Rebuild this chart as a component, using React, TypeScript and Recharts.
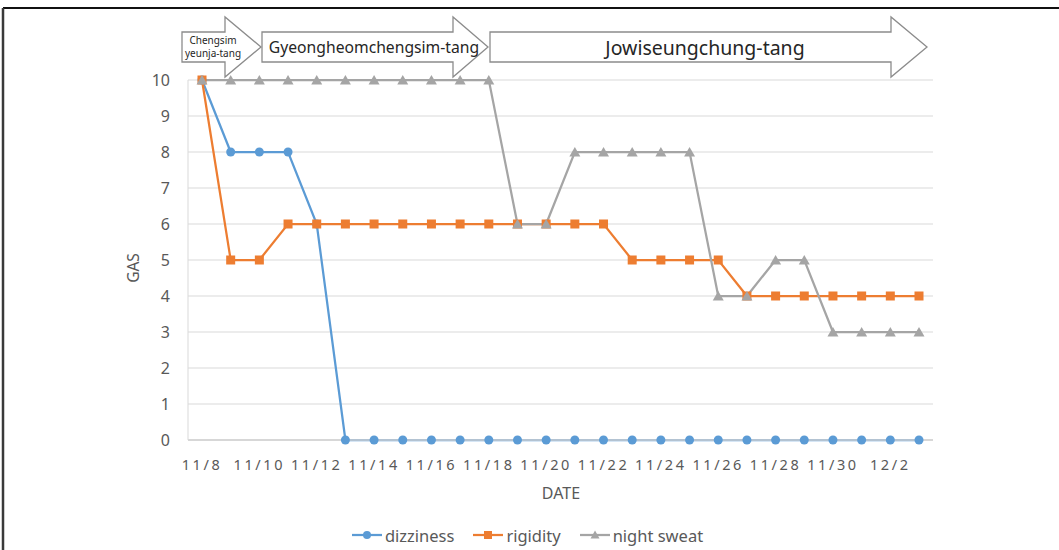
import React from 'react';
import { LineChart, Line, XAxis, YAxis, CartesianGrid, Legend } from 'recharts';

const dates = ['11/8','11/9','11/10','11/11','11/12','11/13','11/14','11/15','11/16','11/17','11/18','11/19','11/20','11/21','11/22','11/23','11/24','11/25','11/26','11/27','11/28','11/29','11/30','12/1','12/2','12/3'];
const dizziness = [10,8,8,8,6,0,0,0,0,0,0,0,0,0,0,0,0,0,0,0,0,0,0,0,0,0];
const rigidity = [10,5,5,6,6,6,6,6,6,6,6,6,6,6,6,5,5,5,5,4,4,4,4,4,4,4];
const nightSweat = [10,10,10,10,10,10,10,10,10,10,10,6,6,8,8,8,8,8,4,4,5,5,3,3,3,3];
const yTicks = [0,1,2,3,4,5,6,7,8,9,10];

const seriesNames = { dizziness: 'dizziness', rigidity: 'rigidity', nightSweat: 'night sweat' };
const colors = { dizziness: '#5B9BD5', rigidity: '#ED7D31', nightSweat: '#A5A5A5' };

const data = dates.map((d, i) => ({ date: d, dizziness: dizziness[i], rigidity: rigidity[i], nightSweat: nightSweat[i] }));

const FONT = '"Noto Sans", "Open Sans", sans-serif';
const TEXT = '#595959';

const SquareDot = (props: any) => {
  const { cx, cy, fill } = props;
  if (cx == null || cy == null) return null;
  return <rect x={cx - 4.5} y={cy - 4.5} width={9} height={9} fill={fill} />;
};
const TriDot = (props: any) => {
  const { cx, cy, fill } = props;
  if (cx == null || cy == null) return null;
  return <path d={`M${cx},${cy - 5} L${cx + 5.5},${cy + 4.5} L${cx - 5.5},${cy + 4.5} Z`} fill={fill} />;
};

const legendItems = [
  { key: 'dizziness', shape: 'circle' },
  { key: 'rigidity', shape: 'square' },
  { key: 'nightSweat', shape: 'triangle' },
];

const LegendContent = () => (
  <div style={{ display: 'flex', justifyContent: 'center', alignItems: 'center', height: 30, fontFamily: FONT, fontSize: 16.5, color: TEXT }}>
    {legendItems.map((it, idx) => {
      const c = (colors as any)[it.key];
      return (
        <div key={it.key} style={{ display: 'flex', alignItems: 'center', marginLeft: idx === 0 ? 0 : 19 }}>
          <svg width={30} height={12} style={{ marginRight: 3 }}>
            <line x1={0} y1={6} x2={30} y2={6} stroke={c} strokeWidth={2.25} />
            {it.shape === 'circle' && <circle cx={15} cy={6} r={4} fill={c} />}
            {it.shape === 'square' && <rect x={11} y={2} width={8} height={8} fill={c} />}
            {it.shape === 'triangle' && <path d="M15,1.5 L19.5,9.5 L10.5,9.5 Z" fill={c} />}
          </svg>
          <span>{(seriesNames as any)[it.key]}</span>
        </div>
      );
    })}
  </div>
);

const Arrow = ({ x0, xh, xt, label, fontSize, lines, tx }: any) => {
  const bt = 32, bb = 62, ht = 17, hb = 77, ty = 47;
  const d = `M${x0},${bt} L${xh},${bt} L${xh},${ht} L${xt},${ty} L${xh},${hb} L${xh},${bb} L${x0},${bb} Z`;
  return (
    <g>
      <path d={d} fill="#ffffff" stroke="#8c8c8c" strokeWidth={1.3} />
      {lines ? (
        <text x={tx} y={ty} textAnchor="middle" fontSize={fontSize} fill="#262626" fontFamily={FONT}>
          <tspan x={tx} dy={-3}>{lines[0]}</tspan>
          <tspan x={tx} dy={13}>{lines[1]}</tspan>
        </text>
      ) : (
        <text x={tx} y={ty} textAnchor="middle" dominantBaseline="central" fontSize={fontSize} fill="#262626" fontFamily={FONT}>{label}</text>
      )}
    </g>
  );
};

export default function App() {
  return (
    <div style={{ position: 'absolute', left: 0, top: 0, width: 1059, height: 550, background: '#fff', overflow: 'hidden' }}>
      <svg width={1059} height={550} style={{ position: 'absolute', left: 0, top: 0 }}>
        <line x1={3} y1={8} x2={1059} y2={8} stroke="#111" strokeWidth={2} />
        <line x1={3} y1={8} x2={3} y2={550} stroke="#3a3a3a" strokeWidth={2.5} />
        <Arrow x0={182} xh={225} xt={261} tx={213} fontSize={10} lines={['Chengsim', 'yeunja-tang']} />
        <Arrow x0={262} xh={453} xt={488} tx={374} fontSize={15.7} label="Gyeongheomchengsim-tang" />
        <Arrow x0={490} xh={891} xt={927} tx={705} fontSize={19.5} label="Jowiseungchung-tang" />
        <text x={561} y={493} textAnchor="middle" dominantBaseline="central" fontSize={16} fill={TEXT} fontFamily={FONT}>DATE</text>
        <text x={133} y={268} textAnchor="middle" dominantBaseline="central" fontSize={15.5} fill={TEXT} fontFamily={FONT} transform="rotate(-90 133 268)">GAS</text>
      </svg>
      <div style={{ position: 'absolute', left: 0, top: 0 }}>
        <LineChart width={1059} height={550} data={data} margin={{ top: 80, right: 126, bottom: 0, left: 0 }}>
          <CartesianGrid vertical={false} stroke="#d9d9d9" strokeWidth={1} />
          <XAxis
            dataKey="date"
            interval={1}
            height={80}
            padding={{ left: 14, right: 14 }}
            axisLine={{ stroke: '#d0d0d0', strokeWidth: 1.3 }}
            tickLine={false}
            tickSize={0}
            tickMargin={20}
            tick={{ fill: TEXT, fontSize: 14.5, fontFamily: FONT, letterSpacing: 2.6 } as any}
          />
          <YAxis
            domain={[0, 10]}
            ticks={yTicks}
            width={188}
            axisLine={{ stroke: '#d9d9d9' }}
            tickLine={false}
            tickSize={0}
            tickMargin={18}
            tick={{ fill: TEXT, fontSize: 16, fontFamily: FONT }}
          />
          <Legend verticalAlign="bottom" height={30} wrapperStyle={{ left: 0, width: 1055 }} content={<LegendContent />} />
          <Line dataKey="dizziness" name={seriesNames.dizziness} stroke={colors.dizziness} strokeWidth={2.25} isAnimationActive={false}
            dot={{ r: 4.5, fill: colors.dizziness, stroke: 'none' }} activeDot={false} />
          <Line dataKey="rigidity" name={seriesNames.rigidity} stroke={colors.rigidity} strokeWidth={2.25} isAnimationActive={false}
            dot={<SquareDot fill={colors.rigidity} />} activeDot={false} />
          <Line dataKey="nightSweat" name={seriesNames.nightSweat} stroke={colors.nightSweat} strokeWidth={2.25} isAnimationActive={false}
            dot={<TriDot fill={colors.nightSweat} />} activeDot={false} />
        </LineChart>
      </div>
    </div>
  );
}
